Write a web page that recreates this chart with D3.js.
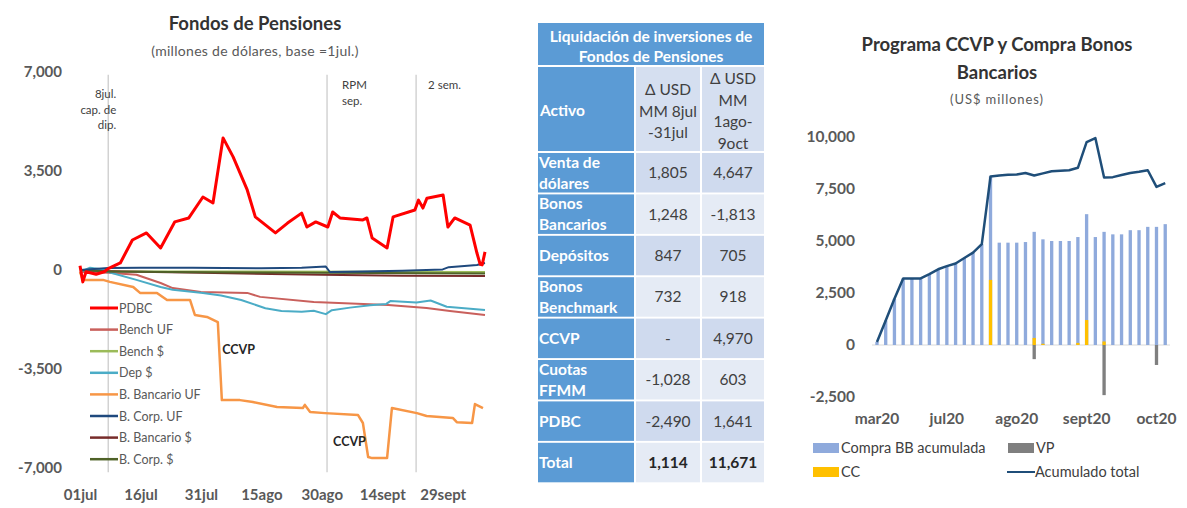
<!DOCTYPE html>
<html>
<head>
<meta charset="utf-8">
<script src="https://cdn.jsdelivr.net/npm/d3@7"></script>
<style>
  body { margin: 0; background: #fff; }
  svg { display: block; font-family: Lato, "Open Sans", sans-serif; }
</style>
</head>
<body>
<div id="chart"></div>
<script>
// ---------- Left chart data: [days since 01jul, USD MM]
const pdbc = [[0,150],[0.7,-420],[1.5,-60],[4,-150],[6,-60],[7,50],[10,250],[13,1060],[16.5,1310],[20,780],[23.5,1700],[27,1840],[30.5,2580],[33,2370],[35.5,4670],[38,4000],[41.5,2830],[43.5,1880],[48.5,1310],[51.5,1660],[55,2010],[56.3,1520],[58.5,1700],[61.5,1520],[62.7,2050],[64.5,1840],[70.2,1770],[71.2,1840],[72.5,1130],[76.2,780],[77.7,1880],[83.1,2120],[84,2470],[85.1,2190],[86.1,2540],[90.1,2650],[91.3,1520],[93,1840],[96.8,1590],[98.5,600],[99.3,200],[99.8,180],[100.5,640]];
const benchUF = [[0,-70],[7,-100],[14,-170],[20,-460],[23,-640],[30,-780],[41.5,-810],[44.7,-950],[58,-1130],[76.5,-1240],[86,-1340],[91.8,-1450],[100.5,-1590]];
const benchUSD = [[0,0],[10,-40],[40,-50],[70,-60],[100.5,-70]];
const depUSD = [[0,-70],[2.5,80],[5.7,20],[7,-70],[14,-350],[20,-600],[23,-700],[30.5,-810],[35,-900],[40,-1060],[46,-1350],[50,-1450],[55,-1480],[58,-1440],[61,-1560],[62.5,-1420],[67,-1330],[72,-1250],[76,-1200],[77,-1100],[83.5,-1150],[87,-1080],[91,-1300],[100.5,-1410]];
const bancUF = [[0,-70],[0.7,-350],[5.7,-350],[7.4,-420],[13.2,-600],[14.9,-810],[19.1,-810],[21.6,-1060],[27.3,-1060],[28.5,-1590],[31.5,-1660],[34.2,-1840],[35.2,-4600],[39.7,-4600],[42.9,-4670],[48.9,-4840],[55.3,-4880],[55.8,-4770],[57.1,-5020],[60.8,-5060],[69,-5130],[70.2,-5410],[71.5,-6610],[72.5,-6650],[76.2,-6650],[77.4,-4880],[83.6,-5060],[86,-5160],[92.5,-5230],[93.5,-5380],[97.3,-5410],[98,-4740],[100,-4880]];
const corpUF = [[0,0],[7,70],[15,80],[28,80],[45,60],[55,80],[61,120],[62,-70],[70,-50],[80,-30],[90,20],[91.5,100],[98.5,180],[100.5,250]];
const bancUSD = [[0,0],[7,-40],[30,-100],[60,-170],[80,-200],[100.5,-210]];
const corpUSD = [[0,0],[7,-50],[30,-80],[60,-100],[100.5,-120]];

const leftNames = ["PDBC", "Bench UF", "Bench $", "Dep $", "B. Bancario UF", "B. Corp. UF", "B. Bancario $", "B. Corp. $"];
const leftSeries = [pdbc, benchUF, benchUSD, depUSD, bancUF, corpUF, bancUSD, corpUSD];
const leftColors = ["#ff0000", "#c9605c", "#9bbb59", "#4bacc6", "#f79646", "#1f497d", "#772c2a", "#4f6228"];

const leftYTicks = [-7000, -3500, 0, 3500, 7000];
const leftXTickDays = [0, 15, 30, 45, 60, 75, 90];
const leftXTickLabels = ["01jul", "16jul", "31jul", "15ago", "30ago", "14sept", "29sept"];
const eventDays = [7, 61.3, 83.4];
const eventLabels = [["8jul.", "cap. de", "dip."], ["RPM", "sep."], ["2 sem."]];
const ccvpNotes = [[35.3, -2800], [62.8, -6080]];

// ---------- Table data
const tableAssets = [["Venta de", "dólares"], ["Bonos", "Bancarios"], ["Depósitos"], ["Bonos", "Benchmark"], ["CCVP"], ["Cuotas", "FFMM"], ["PDBC"], ["Total"]];
const tableJul = ["1,805", "1,248", "847", "732", "-", "-1,028", "-2,490", "1,114"];
const tableAgoOct = ["4,647", "-1,813", "705", "918", "4,970", "603", "1,641", "11,671"];

// ---------- Right chart data (34 periods)
const compraBB = [146,1180,2220,3200,3200,3200,3410,3640,3790,3920,4180,4440,4850,8100,4920,4920,4920,4950,5440,5080,5000,5000,5000,5190,6290,5190,5440,5320,5320,5520,5520,5680,5680,5810];
const cc = [0,0,0,0,0,0,0,0,0,0,0,0,0,3130,0,0,0,0,340,60,0,0,0,100,1200,0,170,0,0,0,0,0,0,0];
const vp = [0,0,0,0,0,0,0,0,0,0,0,0,0,0,0,0,0,0,-680,0,0,0,0,0,0,0,-2410,0,0,0,0,0,-960,0];
const acumTotal = [146,1180,2220,3200,3200,3200,3410,3640,3790,3920,4180,4440,4850,8100,8150,8180,8200,8270,8150,8250,8350,8380,8400,8520,9750,9950,8050,8070,8170,8270,8330,8400,7600,7780];
const rightYTicks = [-2500, 0, 2500, 5000, 7500, 10000];
const rightTickIdx = [0, 8, 16, 24, 32];
const rightTickLabels = ["mar20", "jul20", "ago20", "sept20", "oct20"];

const textGray = "#404040";
const fmt = d3.formatLocale({ decimal: ".", thousands: ",", grouping: [3], currency: ["$", ""], minus: "-" }).format(",");

const svg = d3.select("#chart").append("svg")
    .attr("width", 1187)
    .attr("height", 508);

// ================= LEFT CHART =================
const xL = d3.scaleLinear().domain([0, 100.5]).range([80, 485]);
const yL = d3.scaleLinear().domain([-7000, 7000]).range([468, 72]);
const left = svg.append("g");

left.append("text")
    .attr("x", 255).attr("y", 30)
    .attr("text-anchor", "middle")
    .style("font-size", "18.5px").style("font-weight", "bold").style("fill", "#333")
    .text("Fondos de Pensiones");
left.append("text")
    .attr("x", 255).attr("y", 56)
    .attr("text-anchor", "middle")
    .style("font-size", "14px").style("letter-spacing", "0.3px").style("fill", "#595959")
    .text("(millones de dólares, base =1jul.)");

// event lines
left.selectAll(".ev")
    .data(eventDays)
    .join("line")
    .attr("x1", d => xL(d)).attr("x2", d => xL(d))
    .attr("y1", yL(6900)).attr("y2", yL(-7150))
    .attr("stroke", "#c8c8c8").attr("stroke-width", 1.2);

eventLabels.forEach((lines, i) => {
    const t = left.append("text")
        .attr("text-anchor", i === 0 ? "end" : "start")
        .style("font-size", "11.5px").style("fill", textGray);
    const x0 = i === 0 ? xL(eventDays[i]) + 8 : xL(eventDays[i]) + (i === 1 ? 15 : 12);
    const y0 = i === 0 ? 98 : 89;
    lines.forEach((s, j) => {
        t.append("tspan").attr("x", x0).attr("y", y0 + j * 15.5).text(s);
    });
});

// axes
left.append("g")
    .attr("transform", "translate(64,0)")
    .call(d3.axisLeft(yL).tickValues(leftYTicks).tickFormat(fmt).tickSize(0).tickPadding(2))
    .call(g => g.select(".domain").remove())
    .attr("font-family", null).attr("font-size", null)
    .selectAll("text")
    .style("font-size", "15px").style("font-weight", "bold").style("fill", "#595959");

left.append("g")
    .attr("transform", "translate(0,487)")
    .call(d3.axisBottom(xL).tickValues(leftXTickDays).tickFormat((d, i) => leftXTickLabels[i]).tickSize(0).tickPadding(2))
    .call(g => g.select(".domain").remove())
    .attr("font-family", null).attr("font-size", null)
    .selectAll("text")
    .style("font-size", "15px").style("font-weight", "bold").style("fill", "#595959");

// lines (PDBC on top)
const lineL = d3.line().x(d => xL(d[0])).y(d => yL(d[1]));
const drawOrder = [1, 2, 3, 4, 6, 7, 5, 0];
drawOrder.forEach(i => {
    left.append("path")
        .datum(leftSeries[i])
        .attr("d", lineL)
        .attr("fill", "none")
        .attr("stroke", leftColors[i])
        .attr("stroke-width", i === 0 ? 3 : (i === 4 ? 2.5 : 2))
        .attr("stroke-linejoin", "round");
});

// CCVP notes
ccvpNotes.forEach(d => {
    left.append("text")
        .attr("x", xL(d[0])).attr("y", yL(d[1]) + 4.5)
        .style("font-size", "12.5px").style("font-weight", "bold").style("fill", "#262626")
        .text("CCVP");
});

// legend
leftNames.forEach((name, i) => {
    const y = 308 + i * 21.6;
    left.append("line")
        .attr("x1", 90).attr("x2", 118).attr("y1", y).attr("y2", y)
        .attr("stroke", leftColors[i]).attr("stroke-width", i === 0 ? 3 : 2.5);
    left.append("text")
        .attr("x", 119).attr("y", y + 4.5)
        .style("font-size", "12.5px").style("fill", "#595959")
        .text(name);
});

// ================= TABLE =================
const tbl = svg.append("g");
const blue = "#5b9bd5";
const colX = [538, 636, 702];
const colW = [96, 64, 62];
const rowTop = i => 153 + i * 41.4;
const rowH = 39.5;
const tFont = "15.5px";

tbl.append("rect").attr("x", 538).attr("y", 23).attr("width", 226).attr("height", 42).attr("fill", blue);
tbl.append("text")
    .attr("text-anchor", "middle")
    .style("font-size", "15.5px").style("font-weight", "bold").style("fill", "#fff")
    .selectAll("tspan")
    .data(["Liquidación de inversiones de", "Fondos de Pensiones"])
    .join("tspan")
    .attr("x", 651).attr("y", (d, i) => 42 + i * 19.5)
    .text(d => d);

// second header row
tbl.append("rect").attr("x", colX[0]).attr("y", 67).attr("width", colW[0]).attr("height", 84).attr("fill", blue);
tbl.append("rect").attr("x", colX[1]).attr("y", 67).attr("width", colW[1]).attr("height", 84).attr("fill", "#d5dff0");
tbl.append("rect").attr("x", colX[2]).attr("y", 67).attr("width", colW[2]).attr("height", 84).attr("fill", "#d5dff0");
tbl.append("text")
    .attr("x", 540).attr("y", 116)
    .style("font-size", tFont).style("font-weight", "bold").style("fill", "#fff")
    .text("Activo");
[["Δ USD", "MM 8jul", "-31jul"], ["Δ USD", "MM", "1ago-", "9oct"]].forEach((lines, c) => {
    const y0 = c === 0 ? 95 : 84;
    tbl.append("text")
        .attr("text-anchor", "middle")
        .style("font-size", tFont).style("fill", textGray)
        .selectAll("tspan")
        .data(lines)
        .join("tspan")
        .attr("x", colX[c + 1] + colW[c + 1] / 2)
        .attr("y", (d, i) => y0 + i * 21.5)
        .text(d => d);
});

// body rows
tableAssets.forEach((lines, i) => {
    const y = rowTop(i);
    const cellFill = i % 2 === 0 ? "#cfdaee" : "#e5ebf5";
    const bold = i === tableAssets.length - 1;
    tbl.append("rect").attr("x", colX[0]).attr("y", y).attr("width", colW[0]).attr("height", rowH).attr("fill", blue);
    tbl.append("rect").attr("x", colX[1]).attr("y", y).attr("width", colW[1]).attr("height", rowH).attr("fill", cellFill);
    tbl.append("rect").attr("x", colX[2]).attr("y", y).attr("width", colW[2]).attr("height", rowH).attr("fill", cellFill);
    const mid = y + rowH / 2;
    tbl.append("text")
        .style("font-size", tFont).style("font-weight", "bold").style("fill", "#fff")
        .selectAll("tspan")
        .data(lines)
        .join("tspan")
        .attr("x", 539)
        .attr("y", (d, j) => mid + 5.5 + (j - (lines.length - 1) / 2) * 21)
        .text(d => d);
    [tableJul[i], tableAgoOct[i]].forEach((v, c) => {
        tbl.append("text")
            .attr("x", colX[c + 1] + colW[c + 1] / 2).attr("y", mid + 5.5)
            .attr("text-anchor", "middle")
            .style("font-size", tFont).style("font-weight", bold ? "bold" : "normal").style("fill", bold ? "#262626" : textGray)
            .text(v);
    });
});

// ================= RIGHT CHART =================
const right = svg.append("g");
const xR = d3.scaleBand().domain(d3.range(compraBB.length)).range([872.6, 1169.6]).paddingInner(0.62).paddingOuter(0.31);
const yR = d3.scaleLinear().domain([-2500, 10000]).range([397, 137]);
const cx = i => xR(i) + xR.bandwidth() / 2;

right.append("text")
    .attr("text-anchor", "middle")
    .style("font-size", "18.5px").style("font-weight", "bold").style("fill", "#333")
    .selectAll("tspan")
    .data(["Programa CCVP y Compra Bonos", "Bancarios"])
    .join("tspan")
    .attr("x", 997).attr("y", (d, i) => 51 + i * 27.5)
    .text(d => d);
right.append("text")
    .attr("x", 997).attr("y", 104)
    .attr("text-anchor", "middle")
    .style("font-size", "13px").style("letter-spacing", "0.9px").style("fill", "#595959")
    .text("(US$ millones)");

right.append("g")
    .attr("transform", "translate(857,0)")
    .call(d3.axisLeft(yR).tickValues(rightYTicks).tickFormat(fmt).tickSize(0).tickPadding(2))
    .call(g => g.select(".domain").remove())
    .attr("font-family", null).attr("font-size", null)
    .selectAll("text")
    .style("font-size", "15.5px").style("font-weight", "bold").style("fill", "#595959");

right.append("g")
    .attr("transform", "translate(0,413)")
    .call(d3.axisBottom(xR).tickValues(rightTickIdx).tickFormat((d, i) => rightTickLabels[i]).tickSize(0).tickPadding(0))
    .call(g => g.select(".domain").remove())
    .attr("font-family", null).attr("font-size", null)
    .selectAll("text")
    .style("font-size", "15.5px").style("font-weight", "bold").style("fill", "#595959");

// zero line
right.append("line")
    .attr("x1", 872).attr("x2", 1170).attr("y1", yR(0)).attr("y2", yR(0))
    .attr("stroke", "#d9d9d9").attr("stroke-width", 1);

const barGroups = [[compraBB, "#8faadc"], [cc, "#ffc000"], [vp, "#7f7f7f"]];
barGroups.forEach(([vals, color]) => {
    right.append("g")
        .selectAll("rect")
        .data(vals)
        .join("rect")
        .attr("x", (d, i) => xR(i))
        .attr("width", xR.bandwidth())
        .attr("y", d => yR(Math.max(0, d)))
        .attr("height", d => Math.abs(yR(d) - yR(0)))
        .attr("fill", color);
});

right.append("path")
    .datum(acumTotal)
    .attr("d", d3.line().x((d, i) => cx(i)).y(d => yR(d)))
    .attr("fill", "none")
    .attr("stroke", "#1f4e79")
    .attr("stroke-width", 2.5)
    .attr("stroke-linejoin", "round");

// legend
const legR = [
    { name: "Compra BB acumulada", color: "#8faadc", x: 813, y: 448, type: "rect" },
    { name: "VP", color: "#7f7f7f", x: 1008, y: 448, type: "rect" },
    { name: "CC", color: "#ffc000", x: 813, y: 472, type: "rect" },
    { name: "Acumulado total", color: "#1f4e79", x: 1007, y: 472, type: "line" }
];
legR.forEach(d => {
    if (d.type === "rect") {
        right.append("rect").attr("x", d.x).attr("y", d.y - 5).attr("width", 26).attr("height", 10).attr("fill", d.color);
    } else {
        right.append("line").attr("x1", d.x).attr("x2", d.x + 28).attr("y1", d.y).attr("y2", d.y)
            .attr("stroke", d.color).attr("stroke-width", 2);
    }
    right.append("text")
        .attr("x", d.x + 28).attr("y", d.y + 5)
        .style("font-size", "14.5px").style("fill", textGray)
        .text(d.name);
});
</script>
</body>
</html>
